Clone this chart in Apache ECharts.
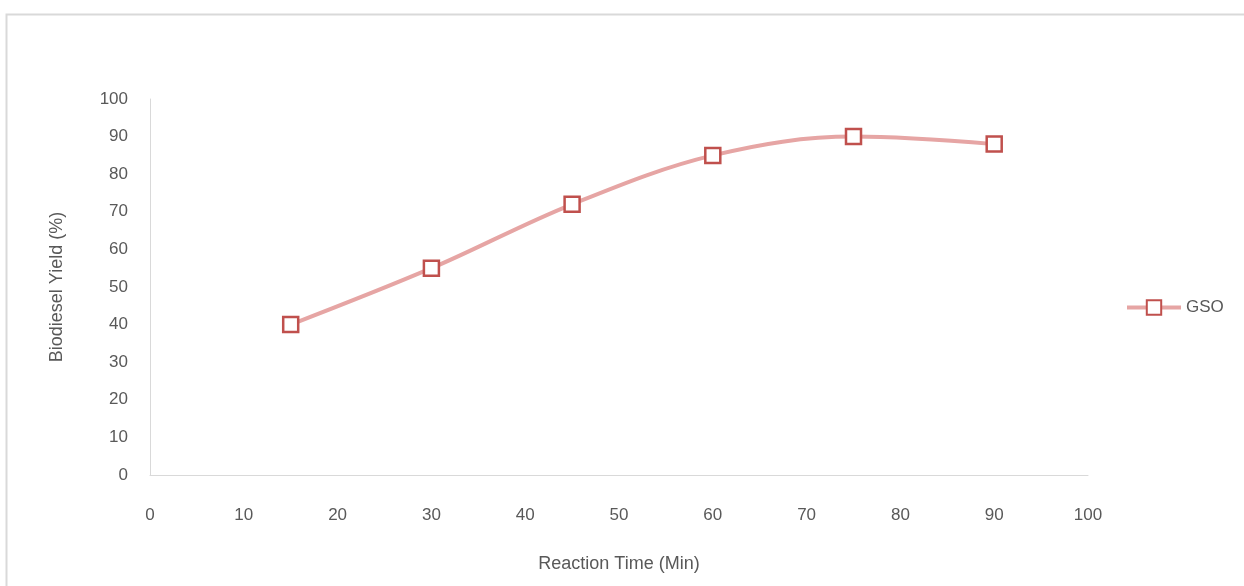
<!DOCTYPE html>
<html><head><meta charset="utf-8">
<script src="https://cdn.jsdelivr.net/npm/echarts@6/dist/echarts.min.js"></script>
<style>html,body{margin:0;padding:0;background:#fff}#c{width:1244px;height:586px}</style>
</head><body><div id="c"></div>
<script>
var reactionTime = [15, 30, 45, 60, 75, 90];
var yieldGSO = [40, 55, 72, 85, 90, 88];
var seriesName = 'GSO';
var xTitle = 'Reaction Time (Min)';
var yTitle = 'Biodiesel Yield (%)';

var chart = echarts.init(document.getElementById('c'));
var font = 'Liberation Sans, Arial, sans-serif';
chart.setOption({
  animation: false,
  backgroundColor: '#fff',
  graphic: [{type:'rect', shape:{x:6.5,y:14.5,width:1250,height:600}, style:{fill:'none', stroke:'#D9D9D9', lineWidth:2}}],
  grid: {left:150, right:156, top:99, bottom:111},
  legend: {
    data:[seriesName], left:1120, top:294, orient:'vertical',
    itemWidth:54, itemHeight:18, itemGap:5,
    lineStyle:{width:4},
    textStyle:{color:'#595959', fontSize:17, fontFamily:font}
  },
  xAxis: {
    type:'value', min:0, max:100, interval:10,
    name: xTitle, nameLocation:'middle', nameGap:80,
    nameTextStyle:{color:'#595959', fontSize:18, fontFamily:font},
    axisLine:{show:true, lineStyle:{color:'#D9D9D9', width:1}},
    axisTick:{show:false}, splitLine:{show:false},
    axisLabel:{color:'#595959', fontSize:17, fontFamily:font, margin:32}
  },
  yAxis: {
    type:'value', min:0, max:100, interval:10,
    name: yTitle, nameLocation:'middle', nameGap:84, nameRotate:90,
    nameTextStyle:{color:'#595959', fontSize:18, fontFamily:font},
    axisLine:{show:true, lineStyle:{color:'#D9D9D9', width:1}},
    axisTick:{show:false}, splitLine:{show:false},
    axisLabel:{color:'#595959', fontSize:17, fontFamily:font, margin:22}
  },
  series: [{
    name: seriesName, type:'line', smooth:0.35,
    data: reactionTime.map(function(t,i){return [t, yieldGSO[i]];}),
    symbol:'rect', symbolSize:15,
    lineStyle:{color:'#E6A5A4', width:4},
    itemStyle:{color:'#fff', borderColor:'#C0504D', borderWidth:2.5}
  }]
});
</script></body></html>
